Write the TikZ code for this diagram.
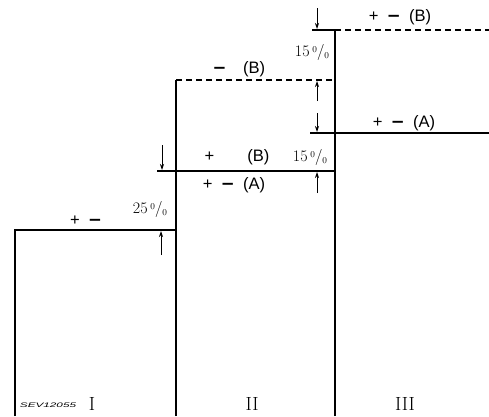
\documentclass[tikz,border=0pt]{standalone}
\usepackage{fontspec}
\setsansfont{Liberation Sans}
\newfontfamily\dvs{DejaVu Sans}
\usetikzlibrary{arrows.meta}
\newcommand\mns{{\dvs\bfseries −}}
\newcommand\pc[1]{#1\,\raisebox{.55ex}{\small 0}/\raisebox{-.35ex}{\small 0}}
\begin{document}
\begin{tikzpicture}[x=1pt,y=-1pt,
  lvl/.style={line width=1.3pt},
  lvlb/.style={line width=1.3pt,dash pattern=on 6pt off 4pt},
  dim/.style={-{Stealth[length=6pt,width=4pt]},line width=0.8pt},
  sgn/.style={font=\sffamily\fontsize{16.5bp}{18bp}\selectfont,inner sep=0pt},
  pct/.style={font=\fontsize{16bp}{18bp}\selectfont,inner sep=0pt},
  num/.style={font=\fontsize{19bp}{21bp}\selectfont,inner sep=0pt}]
\useasboundingbox (0,0) rectangle (489,416);
% step outline
\coordinate (p1) at (15,416);\coordinate (p2) at (15,230);\coordinate (p3) at (176,230);
\coordinate (p4) at (176,416);\coordinate (p5) at (176,80);\coordinate (p6) at (335,80);
\coordinate (p7) at (157,171);\coordinate (p8) at (335,171);
\coordinate (p9) at (335,416);\coordinate (p10) at (335,30);\coordinate (p11) at (312,30);
\coordinate (p12) at (489,30);\coordinate (p13) at (310,133);\coordinate (p14) at (489,133);
\draw[lvl] (p1)--(p2)--(p3);
\draw[lvl] (p4)--(p5);\draw[lvlb] (p5)--(p6);
\draw[lvl] (p7)--(p8);
\draw[lvl] (p9)--(p10);\draw[lvl] (p11)--(p10);\draw[lvlb] (p10)--(p12);
\draw[lvl] (p13)--(p14);
% dimension arrows
\coordinate (a1) at (161,255);\coordinate (a2) at (161,231);
\coordinate (b1) at (162,145);\coordinate (b2) at (162,170);
\coordinate (c1) at (317,193);\coordinate (c2) at (317,172);
\coordinate (d1) at (317,101);\coordinate (d2) at (317,81);
\coordinate (e1) at (317,113);\coordinate (e2) at (317,132);
\coordinate (f1) at (317,8);\coordinate (f2) at (317,29);
\draw[dim] (a1)--(a2);\draw[dim] (b1)--(b2);\draw[dim] (c1)--(c2);
\draw[dim] (d1)--(d2);\draw[dim] (e1)--(e2);\draw[dim] (f1)--(f2);
% labels
\node[sgn] (s1) at (86,221) {+\enspace\mns};
\node[pct] (q1) at (150,209) {\pc{25}};
\node[sgn] (s2) at (237,157) {+\qquad(B)};
\node[pct] (q2) at (310,157) {\pc{15}};
\node[sgn] (s3) at (234,185) {+\enspace\mns\enspace(A)};
\node[sgn] (s4) at (239,69) {\mns\quad(B)};
\node[pct] (q3) at (312,52) {\pc{15}};
\node[sgn] (s5) at (400,17) {+\enspace\mns\enspace(B)};
\node[sgn] (s6) at (404,123) {+\enspace\mns\enspace(A)};
\node[num] (n1) at (92,404) {I};
\node[num] (n2) at (252,404) {II};
\node[num] (n3) at (405,404) {III};
\node[inner sep=0pt,font=\sffamily\itshape\fontsize{6.5bp}{7bp}\selectfont] (r) at (48,405) {\scalebox{1.8}[1]{SEV12055}};
\end{tikzpicture}
\end{document}
